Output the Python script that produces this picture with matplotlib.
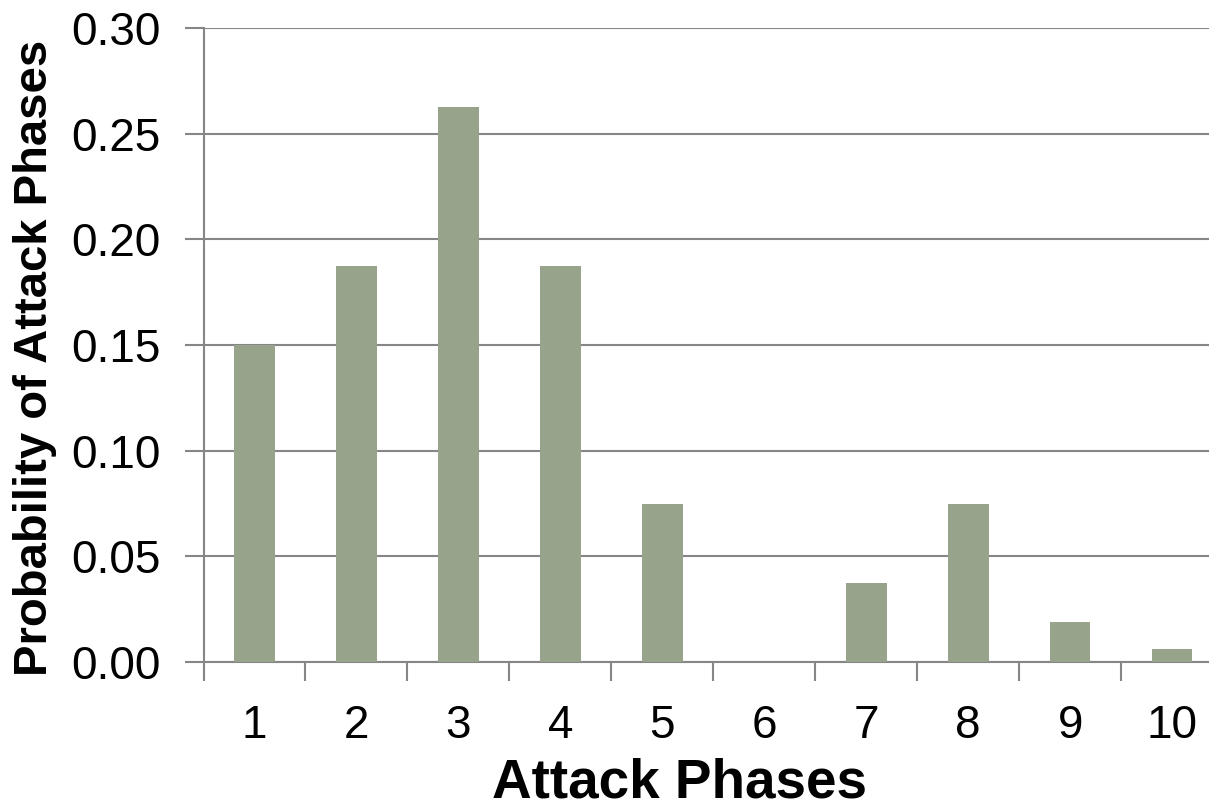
import matplotlib
matplotlib.use("Agg")
import matplotlib.pyplot as plt
from matplotlib.ticker import FixedLocator, NullFormatter

phases = [1, 2, 3, 4, 5, 6, 7, 8, 9, 10]
probability = [0.15, 0.1875, 0.2625, 0.1875, 0.075, 0.0, 0.0375, 0.075, 0.01875, 0.00625]
yticks = [0.00, 0.05, 0.10, 0.15, 0.20, 0.25, 0.30]

plt.rcParams['font.family'] = ['Liberation Sans', 'DejaVu Sans']

W, H = 1209, 800
fig = plt.figure(figsize=(W / 100, H / 100), dpi=100)
ax = fig.add_axes([203.5 / W, 138 / H, 1019.5 / W, 634 / H])

ax.bar(phases, probability, width=0.4, color='#97A38A', zorder=3)

ax.set_xlim(0.5, 10.5)
ax.set_ylim(0, 0.30)
ax.set_yticks(yticks)
ax.set_yticklabels([f"{v:.2f}" for v in yticks])
ax.yaxis.grid(True, color='#868686', linewidth=1.5, zorder=0)

ax.set_xticks(phases)
ax.set_xticklabels([str(p) for p in phases])
ax.xaxis.set_minor_locator(FixedLocator([p + 0.5 for p in range(0, 11)]))
ax.xaxis.set_minor_formatter(NullFormatter())
ax.tick_params(axis='x', which='major', length=0, pad=30, labelsize=33)
ax.tick_params(axis='x', which='minor', length=14, width=1.5, color='#868686', direction='out')
ax.tick_params(axis='y', which='major', length=14, width=1.5, color='#868686', direction='out', pad=17, labelsize=33)

for s in ['top', 'right']:
    ax.spines[s].set_visible(False)
for s in ['left', 'bottom']:
    ax.spines[s].set_color('#868686')
    ax.spines[s].set_linewidth(1.5)

fig.text(680 / W, 1 - 798 / H, 'Attack Phases', fontsize=39.5, fontweight='bold',
         ha='center', va='baseline')
fig.text(35 / W, 1 - 358 / H, 'Probability of Attack Phases', fontsize=34, fontweight='bold',
         ha='center', va='center', rotation=90)

fig.savefig('out.png', dpi=100)
